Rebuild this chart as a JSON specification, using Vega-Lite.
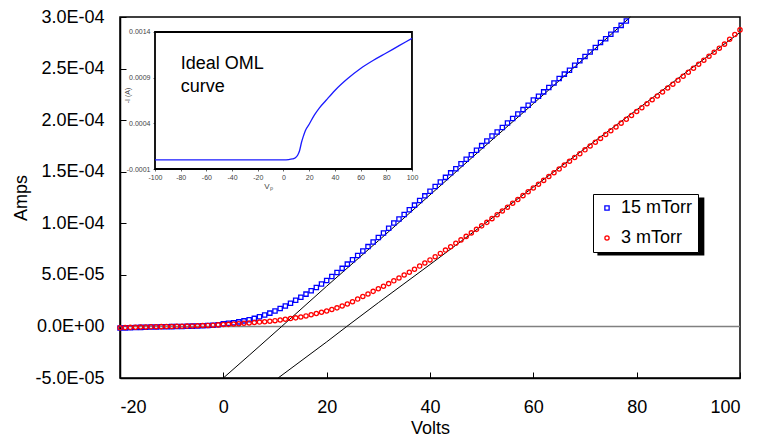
{
"$schema": "https://vega.github.io/schema/vega-lite/v6.json",
"width": 620, "height": 361,
"autosize": "none",
"padding": {"left": 120, "top": 17, "right": 20, "bottom": 60},
"config": {
  "view": {"stroke": "black", "strokeWidth": 1.5},
  "font": "Liberation Sans",
  "legend": {"labelFontSize": 18, "labelFont": "Liberation Sans", "symbolSize": 18, "symbolStrokeWidth": 1.3, "labelOffset": 5, "symbolOffset": 0, "fillColor": "white", "strokeColor": "black", "labelColor": "black"}
},
"datasets": {
  "obs": [
{"volts":-20,"amps":-1.5e-6,"series":"15 mTorr"},{"volts":-19,"amps":-1.4e-6,"series":"15 mTorr"},{"volts":-18,"amps":-1.2e-6,"series":"15 mTorr"},{"volts":-17,"amps":-1.0e-6,"series":"15 mTorr"},{"volts":-16,"amps":-0.9e-6,"series":"15 mTorr"},{"volts":-15,"amps":-0.8e-6,"series":"15 mTorr"},{"volts":-14,"amps":-0.6e-6,"series":"15 mTorr"},{"volts":-13,"amps":-0.5e-6,"series":"15 mTorr"},{"volts":-12,"amps":-0.4e-6,"series":"15 mTorr"},{"volts":-11,"amps":-0.3e-6,"series":"15 mTorr"},
{"volts":-10,"amps":-0.2e-6,"series":"15 mTorr"},{"volts":-9,"amps":-0.1e-6,"series":"15 mTorr"},{"volts":-8,"amps":0.0,"series":"15 mTorr"},{"volts":-7,"amps":0.2e-6,"series":"15 mTorr"},{"volts":-6,"amps":0.3e-6,"series":"15 mTorr"},{"volts":-5,"amps":0.5e-6,"series":"15 mTorr"},{"volts":-4,"amps":0.7e-6,"series":"15 mTorr"},{"volts":-3,"amps":0.9e-6,"series":"15 mTorr"},{"volts":-2,"amps":1.2e-6,"series":"15 mTorr"},{"volts":-1,"amps":1.7e-6,"series":"15 mTorr"},
{"volts":0,"amps":2.5e-6,"series":"15 mTorr"},{"volts":1,"amps":3.0e-6,"series":"15 mTorr"},{"volts":2,"amps":3.6e-6,"series":"15 mTorr"},{"volts":3,"amps":4.4e-6,"series":"15 mTorr"},{"volts":4,"amps":5.4e-6,"series":"15 mTorr"},{"volts":5,"amps":6.5e-6,"series":"15 mTorr"},{"volts":6,"amps":7.8e-6,"series":"15 mTorr"},{"volts":7,"amps":9.3e-6,"series":"15 mTorr"},{"volts":8,"amps":11.0e-6,"series":"15 mTorr"},{"volts":9,"amps":12.9e-6,"series":"15 mTorr"},
{"volts":10,"amps":15.0e-6,"series":"15 mTorr"},{"volts":11,"amps":17.3e-6,"series":"15 mTorr"},{"volts":12,"amps":19.8e-6,"series":"15 mTorr"},{"volts":13,"amps":22.5e-6,"series":"15 mTorr"},{"volts":14,"amps":25.3e-6,"series":"15 mTorr"},{"volts":15,"amps":28.2e-6,"series":"15 mTorr"},{"volts":16,"amps":31.3e-6,"series":"15 mTorr"},{"volts":17,"amps":34.5e-6,"series":"15 mTorr"},{"volts":18,"amps":37.8e-6,"series":"15 mTorr"},{"volts":19,"amps":41.2e-6,"series":"15 mTorr"},
{"volts":20,"amps":44.6e-6,"series":"15 mTorr"},{"volts":21,"amps":48.4e-6,"series":"15 mTorr"},{"volts":22,"amps":52.3e-6,"series":"15 mTorr"},{"volts":23,"amps":56.3e-6,"series":"15 mTorr"},{"volts":24,"amps":60.4e-6,"series":"15 mTorr"},{"volts":25,"amps":64.6e-6,"series":"15 mTorr"},{"volts":26,"amps":68.8e-6,"series":"15 mTorr"},{"volts":27,"amps":73.1e-6,"series":"15 mTorr"},{"volts":28,"amps":77.4e-6,"series":"15 mTorr"},{"volts":29,"amps":81.8e-6,"series":"15 mTorr"},
{"volts":30,"amps":86.2e-6,"series":"15 mTorr"},{"volts":31,"amps":90.6e-6,"series":"15 mTorr"},{"volts":32,"amps":95.1e-6,"series":"15 mTorr"},{"volts":33,"amps":100.2e-6,"series":"15 mTorr"},{"volts":34,"amps":104.1e-6,"series":"15 mTorr"},{"volts":35,"amps":108.6e-6,"series":"15 mTorr"},{"volts":36,"amps":113.1e-6,"series":"15 mTorr"},{"volts":37,"amps":117.6e-6,"series":"15 mTorr"},{"volts":38,"amps":122.1e-6,"series":"15 mTorr"},{"volts":39,"amps":126.6e-6,"series":"15 mTorr"},
{"volts":40,"amps":131.1e-6,"series":"15 mTorr"},{"volts":41,"amps":135.6e-6,"series":"15 mTorr"},{"volts":42,"amps":140.1e-6,"series":"15 mTorr"},{"volts":43,"amps":144.5e-6,"series":"15 mTorr"},{"volts":44,"amps":148.9e-6,"series":"15 mTorr"},{"volts":45,"amps":152.8e-6,"series":"15 mTorr"},{"volts":46,"amps":157.7e-6,"series":"15 mTorr"},{"volts":47,"amps":162.1e-6,"series":"15 mTorr"},{"volts":48,"amps":166.5e-6,"series":"15 mTorr"},{"volts":49,"amps":170.9e-6,"series":"15 mTorr"},
{"volts":50,"amps":175.3e-6,"series":"15 mTorr"},{"volts":51,"amps":179.7e-6,"series":"15 mTorr"},{"volts":52,"amps":184.6e-6,"series":"15 mTorr"},{"volts":53,"amps":188.5e-6,"series":"15 mTorr"},{"volts":54,"amps":192.9e-6,"series":"15 mTorr"},{"volts":55,"amps":197.3e-6,"series":"15 mTorr"},{"volts":56,"amps":201.6e-6,"series":"15 mTorr"},{"volts":57,"amps":205.9e-6,"series":"15 mTorr"},{"volts":58,"amps":210.2e-6,"series":"15 mTorr"},{"volts":59,"amps":214.5e-6,"series":"15 mTorr"},
{"volts":60,"amps":219.5e-6,"series":"15 mTorr"},{"volts":61,"amps":223.1e-6,"series":"15 mTorr"},{"volts":62,"amps":227.4e-6,"series":"15 mTorr"},{"volts":63,"amps":231.7e-6,"series":"15 mTorr"},{"volts":64,"amps":236.0e-6,"series":"15 mTorr"},{"volts":65,"amps":240.3e-6,"series":"15 mTorr"},{"volts":66,"amps":244.6e-6,"series":"15 mTorr"},{"volts":67,"amps":248.4e-6,"series":"15 mTorr"},{"volts":68,"amps":253.2e-6,"series":"15 mTorr"},{"volts":69,"amps":257.5e-6,"series":"15 mTorr"},
{"volts":70,"amps":261.8e-6,"series":"15 mTorr"},{"volts":71,"amps":266.1e-6,"series":"15 mTorr"},{"volts":72,"amps":270.4e-6,"series":"15 mTorr"},{"volts":73,"amps":275.3e-6,"series":"15 mTorr"},{"volts":74,"amps":279.0e-6,"series":"15 mTorr"},{"volts":75,"amps":283.3e-6,"series":"15 mTorr"},{"volts":76,"amps":287.6e-6,"series":"15 mTorr"},{"volts":77,"amps":291.9e-6,"series":"15 mTorr"},{"volts":78,"amps":296.2e-6,"series":"15 mTorr"},
{"volts":-20,"amps":-1.2e-6,"series":"3 mTorr"},{"volts":-19,"amps":-1.0e-6,"series":"3 mTorr"},{"volts":-18,"amps":-0.9e-6,"series":"3 mTorr"},{"volts":-17,"amps":-0.8e-6,"series":"3 mTorr"},{"volts":-16,"amps":-0.6e-6,"series":"3 mTorr"},{"volts":-15,"amps":-0.5e-6,"series":"3 mTorr"},{"volts":-14,"amps":-0.4e-6,"series":"3 mTorr"},{"volts":-13,"amps":-0.3e-6,"series":"3 mTorr"},{"volts":-12,"amps":-0.2e-6,"series":"3 mTorr"},{"volts":-11,"amps":-0.1e-6,"series":"3 mTorr"},
{"volts":-10,"amps":0.0,"series":"3 mTorr"},{"volts":-9,"amps":0.1e-6,"series":"3 mTorr"},{"volts":-8,"amps":0.2e-6,"series":"3 mTorr"},{"volts":-7,"amps":0.3e-6,"series":"3 mTorr"},{"volts":-6,"amps":0.5e-6,"series":"3 mTorr"},{"volts":-5,"amps":0.6e-6,"series":"3 mTorr"},{"volts":-4,"amps":0.8e-6,"series":"3 mTorr"},{"volts":-3,"amps":1.0e-6,"series":"3 mTorr"},{"volts":-2,"amps":1.2e-6,"series":"3 mTorr"},{"volts":-1,"amps":1.5e-6,"series":"3 mTorr"},
{"volts":0,"amps":1.8e-6,"series":"3 mTorr"},{"volts":1,"amps":2.0e-6,"series":"3 mTorr"},{"volts":2,"amps":2.3e-6,"series":"3 mTorr"},{"volts":3,"amps":2.6e-6,"series":"3 mTorr"},{"volts":4,"amps":3.0e-6,"series":"3 mTorr"},{"volts":5,"amps":3.4e-6,"series":"3 mTorr"},{"volts":6,"amps":3.8e-6,"series":"3 mTorr"},{"volts":7,"amps":4.2e-6,"series":"3 mTorr"},{"volts":8,"amps":4.6e-6,"series":"3 mTorr"},{"volts":9,"amps":5.1e-6,"series":"3 mTorr"},
{"volts":10,"amps":5.6e-6,"series":"3 mTorr"},{"volts":11,"amps":6.2e-6,"series":"3 mTorr"},{"volts":12,"amps":6.9e-6,"series":"3 mTorr"},{"volts":13,"amps":7.6e-6,"series":"3 mTorr"},{"volts":14,"amps":8.3e-6,"series":"3 mTorr"},{"volts":15,"amps":9.2e-6,"series":"3 mTorr"},{"volts":16,"amps":10.2e-6,"series":"3 mTorr"},{"volts":17,"amps":11.3e-6,"series":"3 mTorr"},{"volts":18,"amps":12.5e-6,"series":"3 mTorr"},{"volts":19,"amps":13.7e-6,"series":"3 mTorr"},
{"volts":20,"amps":15.0e-6,"series":"3 mTorr"},{"volts":21,"amps":16.4e-6,"series":"3 mTorr"},{"volts":22,"amps":18.0e-6,"series":"3 mTorr"},{"volts":23,"amps":19.8e-6,"series":"3 mTorr"},{"volts":24,"amps":21.8e-6,"series":"3 mTorr"},{"volts":25,"amps":24.0e-6,"series":"3 mTorr"},{"volts":26,"amps":26.5e-6,"series":"3 mTorr"},{"volts":27,"amps":29.0e-6,"series":"3 mTorr"},{"volts":28,"amps":31.5e-6,"series":"3 mTorr"},{"volts":29,"amps":34.0e-6,"series":"3 mTorr"},
{"volts":30,"amps":36.5e-6,"series":"3 mTorr"},{"volts":31,"amps":39.0e-6,"series":"3 mTorr"},{"volts":32,"amps":41.5e-6,"series":"3 mTorr"},{"volts":33,"amps":44.2e-6,"series":"3 mTorr"},{"volts":34,"amps":47.0e-6,"series":"3 mTorr"},{"volts":35,"amps":49.8e-6,"series":"3 mTorr"},{"volts":36,"amps":52.6e-6,"series":"3 mTorr"},{"volts":37,"amps":55.5e-6,"series":"3 mTorr"},{"volts":38,"amps":58.5e-6,"series":"3 mTorr"},{"volts":39,"amps":61.5e-6,"series":"3 mTorr"},
{"volts":40,"amps":64.5e-6,"series":"3 mTorr"},{"volts":41,"amps":67.6e-6,"series":"3 mTorr"},{"volts":42,"amps":70.8e-6,"series":"3 mTorr"},{"volts":43,"amps":74.0e-6,"series":"3 mTorr"},{"volts":44,"amps":77.3e-6,"series":"3 mTorr"},{"volts":45,"amps":80.6e-6,"series":"3 mTorr"},{"volts":46,"amps":83.9e-6,"series":"3 mTorr"},{"volts":47,"amps":87.3e-6,"series":"3 mTorr"},{"volts":48,"amps":90.7e-6,"series":"3 mTorr"},{"volts":49,"amps":94.1e-6,"series":"3 mTorr"},
{"volts":50,"amps":97.5e-6,"series":"3 mTorr"},{"volts":51,"amps":100.9e-6,"series":"3 mTorr"},{"volts":52,"amps":104.5e-6,"series":"3 mTorr"},{"volts":53,"amps":108.2e-6,"series":"3 mTorr"},{"volts":54,"amps":111.9e-6,"series":"3 mTorr"},{"volts":55,"amps":115.6e-6,"series":"3 mTorr"},{"volts":56,"amps":119.4e-6,"series":"3 mTorr"},{"volts":57,"amps":123.1e-6,"series":"3 mTorr"},{"volts":58,"amps":126.8e-6,"series":"3 mTorr"},{"volts":59,"amps":130.5e-6,"series":"3 mTorr"},
{"volts":60,"amps":134.2e-6,"series":"3 mTorr"},{"volts":61,"amps":137.9e-6,"series":"3 mTorr"},{"volts":62,"amps":141.6e-6,"series":"3 mTorr"},{"volts":63,"amps":145.3e-6,"series":"3 mTorr"},{"volts":64,"amps":149.0e-6,"series":"3 mTorr"},{"volts":65,"amps":152.7e-6,"series":"3 mTorr"},{"volts":66,"amps":156.4e-6,"series":"3 mTorr"},{"volts":67,"amps":160.1e-6,"series":"3 mTorr"},{"volts":68,"amps":163.8e-6,"series":"3 mTorr"},{"volts":69,"amps":167.5e-6,"series":"3 mTorr"},
{"volts":70,"amps":171.2e-6,"series":"3 mTorr"},{"volts":71,"amps":174.9e-6,"series":"3 mTorr"},{"volts":72,"amps":178.6e-6,"series":"3 mTorr"},{"volts":73,"amps":182.3e-6,"series":"3 mTorr"},{"volts":74,"amps":186.0e-6,"series":"3 mTorr"},{"volts":75,"amps":189.7e-6,"series":"3 mTorr"},{"volts":76,"amps":193.4e-6,"series":"3 mTorr"},{"volts":77,"amps":197.1e-6,"series":"3 mTorr"},{"volts":78,"amps":200.8e-6,"series":"3 mTorr"},{"volts":79,"amps":204.5e-6,"series":"3 mTorr"},
{"volts":80,"amps":208.3e-6,"series":"3 mTorr"},{"volts":81,"amps":212.1e-6,"series":"3 mTorr"},{"volts":82,"amps":215.9e-6,"series":"3 mTorr"},{"volts":83,"amps":219.7e-6,"series":"3 mTorr"},{"volts":84,"amps":223.5e-6,"series":"3 mTorr"},{"volts":85,"amps":227.3e-6,"series":"3 mTorr"},{"volts":86,"amps":231.1e-6,"series":"3 mTorr"},{"volts":87,"amps":234.9e-6,"series":"3 mTorr"},{"volts":88,"amps":238.7e-6,"series":"3 mTorr"},{"volts":89,"amps":242.5e-6,"series":"3 mTorr"},
{"volts":90,"amps":246.4e-6,"series":"3 mTorr"},{"volts":91,"amps":250.3e-6,"series":"3 mTorr"},{"volts":92,"amps":254.2e-6,"series":"3 mTorr"},{"volts":93,"amps":258.1e-6,"series":"3 mTorr"},{"volts":94,"amps":262.0e-6,"series":"3 mTorr"},{"volts":95,"amps":265.9e-6,"series":"3 mTorr"},{"volts":96,"amps":269.8e-6,"series":"3 mTorr"},{"volts":97,"amps":273.7e-6,"series":"3 mTorr"},{"volts":98,"amps":278.5e-6,"series":"3 mTorr"},{"volts":99,"amps":283.0e-6,"series":"3 mTorr"},
{"volts":100,"amps":287.5e-6,"series":"3 mTorr"}
  ],
  "fits": [
{"volts":0,"amps":-50e-6,"fit":"a"},{"volts":5,"amps":-28e-6,"fit":"a"},{"volts":11.3,"amps":0,"fit":"a"},{"volts":20,"amps":39e-6,"fit":"a"},{"volts":30,"amps":83e-6,"fit":"a"},{"volts":40,"amps":127.5e-6,"fit":"a"},{"volts":50,"amps":172e-6,"fit":"a"},{"volts":60,"amps":216e-6,"fit":"a"},{"volts":70,"amps":260.5e-6,"fit":"a"},{"volts":78.8,"amps":300e-6,"fit":"a"},
{"volts":10.6,"amps":-50e-6,"fit":"b"},{"volts":20,"amps":-15e-6,"fit":"b"},{"volts":23.9,"amps":0,"fit":"b"},{"volts":30,"amps":23e-6,"fit":"b"},{"volts":40,"amps":60e-6,"fit":"b"},{"volts":50,"amps":97.5e-6,"fit":"b"},{"volts":60,"amps":135e-6,"fit":"b"},{"volts":70,"amps":172.5e-6,"fit":"b"},{"volts":80,"amps":210e-6,"fit":"b"},{"volts":90,"amps":248e-6,"fit":"b"},{"volts":100,"amps":285e-6,"fit":"b"}
  ],
  "ideal": [
{"vp":-100,"cur":0},{"vp":-50,"cur":0},{"vp":0,"cur":0},{"vp":4,"cur":0.000003},{"vp":7,"cur":0.00001},{"vp":9,"cur":0.00002},{"vp":11,"cur":0.00005},{"vp":12.5,"cur":0.0001},{"vp":14,"cur":0.00019},{"vp":15.5,"cur":0.00026},{"vp":17,"cur":0.00032},{"vp":20,"cur":0.00039},{"vp":24,"cur":0.00049},{"vp":28,"cur":0.00057},{"vp":33,"cur":0.00065},{"vp":40,"cur":0.00076},{"vp":50,"cur":0.00089},{"vp":60,"cur":0.001},{"vp":70,"cur":0.00109},{"vp":80,"cur":0.00117},{"vp":90,"cur":0.00125},{"vp":100,"cur":0.00133}
  ]
},
"layer": [
  {
    "encoding": {
      "x": {"field": "volts", "type": "quantitative",
        "scale": {"domain": [-20, 100], "nice": false, "zero": false},
        "axis": {"orient": "bottom", "title": "Volts", "values": [-20, 0, 20, 40, 60, 80, 100], "grid": false,
          "labelExpr": "replace(format(datum.value, 'd'), '\u2212', '-')",
          "domainColor": "black", "domainWidth": 1.5, "tickColor": "black", "tickSize": -6, "tickWidth": 1,
          "labelFontSize": 18, "labelColor": "black", "labelPadding": 26, "labelFont": "Liberation Sans",
          "titleFontSize": 18, "titleFontWeight": "normal", "titleColor": "black", "titlePadding": 3, "titleFont": "Liberation Sans"}},
      "y": {"field": "amps", "type": "quantitative",
        "scale": {"domain": [-0.00005, 0.0003], "nice": false, "zero": false},
        "axis": {"orient": "left", "title": "Amps", "values": [-0.00005, 0, 0.00005, 0.0001, 0.00015, 0.0002, 0.00025, 0.0003], "grid": false,
          "labelExpr": "replace(replace(replace(format(datum.value, '.1e'), '\u2212', '-'), 'e-', 'E-0'), 'e+', 'E+0')",
          "domainColor": "black", "domainWidth": 1.5, "tickColor": "black", "tickSize": -6, "tickWidth": 1,
          "labelFontSize": 18, "labelColor": "black", "labelPadding": 22, "labelFont": "Liberation Sans",
          "titleFontSize": 18, "titleFontWeight": "normal", "titleColor": "black", "titlePadding": 4, "titleFont": "Liberation Sans"}}
    },
    "layer": [
      {"data": {"values": [{"volts": -20, "volts2": 100, "amps": 0}]},
       "mark": {"type": "rule", "color": "#808080", "strokeWidth": 1.5},
       "encoding": {"x2": {"field": "volts2"}}},
      {"data": {"values": [{"volts": 72.4, "volts2": 93.1, "amps": 0.000125, "amps2": 0.0000688}]},
       "mark": {"type": "rect", "color": "black"},
       "encoding": {"x2": {"field": "volts2"}, "y2": {"field": "amps2"}}},
      {"data": {"name": "fits"},
       "mark": {"type": "line", "color": "black", "strokeWidth": 1},
       "encoding": {"detail": {"field": "fit"}}},
      {"data": {"name": "obs"},
       "mark": {"type": "point", "filled": false, "size": 18, "strokeWidth": 1.3, "opacity": 1},
       "encoding": {
         "color": {"field": "series", "type": "nominal", "scale": {"domain": ["15 mTorr", "3 mTorr"], "range": ["#0000ff", "#ff0000"]},
           "legend": {"title": null, "orient": "none", "legendX": 473, "legendY": 177, "padding": 5, "rowPadding": 12}},
         "shape": {"field": "series", "type": "nominal", "scale": {"domain": ["15 mTorr", "3 mTorr"], "range": ["square", "circle"]},
           "legend": {"title": null, "orient": "none", "legendX": 473, "legendY": 177, "padding": 5, "rowPadding": 12}}
       }}
    ]
  },
  {
    "encoding": {
      "x": {"field": "vp", "type": "quantitative",
        "scale": {"domain": [-127.24, 355.3], "nice": false, "zero": false},
        "axis": {"orient": "bottom", "offset": -209, "values": [-100, -80, -60, -40, -20, 0, 20, 40, 60, 80, 100], "grid": false, "domain": false,
          "labelExpr": "replace(format(datum.value, 'd'), '\u2212', '-')",
          "tickSize": 2, "tickColor": "#666", "labelFontSize": 7, "labelColor": "#444", "labelPadding": 2,
          "title": "Vₚ", "titleFontSize": 8, "titleFontWeight": "normal", "titleColor": "#444", "titleX": 148, "titleY": 13}},
      "y": {"field": "cur", "type": "quantitative",
        "scale": {"domain": [-0.002388, 0.001564], "nice": false, "zero": false},
        "axis": {"orient": "left", "offset": -35, "values": [-0.0001, 0.0004, 0.0009, 0.0014], "grid": false, "domain": false,
          "labelExpr": "replace(format(datum.value, '.4f'), '\u2212', '-')",
          "tickSize": 2, "tickColor": "#666", "labelFontSize": 7, "labelColor": "#444", "labelPadding": 3,
          "title": "-I (A)", "titleFontSize": 7, "titleFontWeight": "normal", "titleColor": "#444", "titleX": -25, "titleY": 78}}
    },
    "layer": [
      {"data": {"values": [{"vp": -100, "vp2": 100, "cur": -0.0001, "cur2": 0.0014}]},
       "mark": {"type": "rect", "fill": "white", "stroke": "black", "strokeWidth": 1.8},
       "encoding": {"x2": {"field": "vp2"}, "y2": {"field": "cur2"}}},
      {"data": {"name": "ideal"},
       "mark": {"type": "line", "color": "#1a1aff", "strokeWidth": 1.3, "interpolate": "monotone"},
       "encoding": {}},
      {"data": {"values": [{"vp": -80, "cur": 0.00105, "label": "Ideal OML"}, {"vp": -80, "cur": 0.000798, "label": "curve"}]},
       "mark": {"type": "text", "align": "left", "baseline": "middle", "fontSize": 18, "font": "Liberation Sans", "color": "black"},
       "encoding": {"text": {"field": "label"}}}
    ]
  }
],
"resolve": {"scale": {"x": "independent", "y": "independent"}, "axis": {"x": "independent", "y": "independent"}}
}
